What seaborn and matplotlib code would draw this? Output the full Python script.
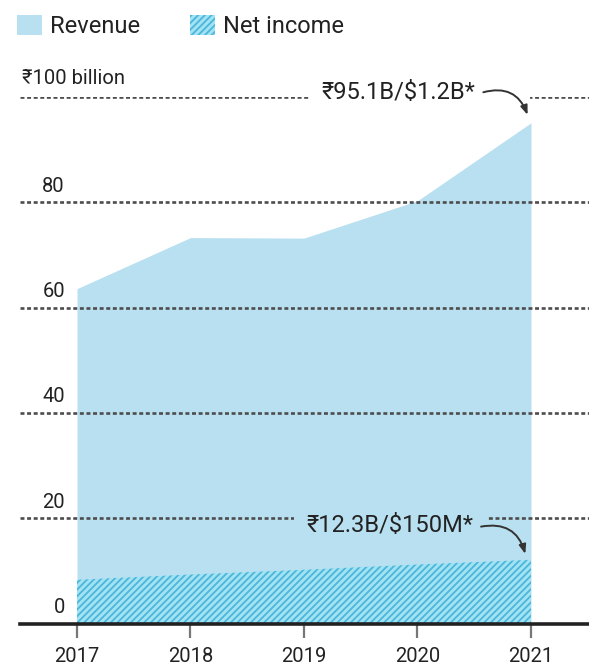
import matplotlib
matplotlib.use("Agg")
import matplotlib.pyplot as plt
from matplotlib.patches import Patch, Rectangle
from matplotlib.transforms import Bbox
import seaborn as sns
import pandas as pd

years = [2017, 2018, 2019, 2020, 2021]
revenue = [63.6, 73.3, 73.2, 80.3, 95.1]
net_income = [8.3, 9.3, 10.2, 11.2, 12.1]
y_ticks = [0, 20, 40, 60, 80, 100]
y_tick_labels = ["0", "20", "40", "60", "80", "₹100 billion"]
rev_label = "₹95.1B/$1.2B*"
ni_label = "₹12.3B/$150M*"

REV_C = "#b9e0f0"
NI_FACE = "#a2e3f3"
NI_HATCH = "#4cb6da"
GRID_C = "#4d4d4d"
TXT = "#222222"

sns.set_theme(style="white")
plt.rcParams["font.family"] = ["Roboto", "DejaVu Sans"]
plt.rcParams["hatch.linewidth"] = 1.3

df = pd.DataFrame({"year": years, "revenue": revenue, "net_income": net_income})

fig = plt.figure(figsize=(5.89, 6.67), dpi=100)
ax = fig.add_axes([20 / 589, 43.5 / 667, 569 / 589, 526.5 / 667])

sns.lineplot(data=df, x="year", y="revenue", ax=ax, lw=0, color=REV_C)
sns.lineplot(data=df, x="year", y="net_income", ax=ax, lw=0, color=NI_FACE)
ax.fill_between(df["year"], 0, df["revenue"], color=REV_C, lw=0, zorder=1)
ax.fill_between(df["year"], 0, df["net_income"], facecolor=NI_FACE,
                edgecolor=NI_HATCH, hatch="/////", lw=0, zorder=1.2)

ax.set_xlim(2016.498, 2021.511)
ax.set_ylim(0, 100)
ax.set_xticks(years)
ax.set_xticklabels([str(y) for y in years])
ax.set_yticks(y_ticks)
ax.set_yticklabels([])
ax.set_xlabel("")
ax.set_ylabel("")
ax.tick_params(axis="x", bottom=True, length=10, width=1.6, color="#777777",
               labelsize=14.5, labelcolor=TXT, pad=7)
ax.tick_params(axis="y", left=False, length=0)

ax.set_axisbelow(False)
ax.yaxis.grid(True, linestyle=(0, (1.5, 1.0)), color=GRID_C, lw=1.9, zorder=2.5)
ax.xaxis.grid(False)
for s in ["top", "right", "left"]:
    ax.spines[s].set_visible(False)
ax.spines["bottom"].set_color("#222222")
ax.spines["bottom"].set_linewidth(2.6)
ax.spines["bottom"].set_zorder(4)

# y labels
blend = ax.get_yaxis_transform()
for v, lab in zip(y_ticks, y_tick_labels):
    if v == y_ticks[-1]:
        ax.text(0.004, v + 2.5, lab, transform=blend, ha="left", va="baseline",
                fontsize=14.5, color=TXT, clip_on=False)
    else:
        ax.text(0.079, v + 2.0, lab, transform=blend, ha="right", va="baseline",
                fontsize=14.5, color=TXT, clip_on=False)

arrow_kw = dict(arrowstyle="-|>,head_length=0.45,head_width=0.17",
                connectionstyle="arc3,rad=-0.45", color="#333333", lw=1.4,
                shrinkA=0, shrinkB=0)

# top annotation
t_rev = ax.text(2019.83, 100.8, rev_label, ha="center", va="center", fontsize=17,
                color=TXT, zorder=5, clip_on=False)
a_rev = ax.annotate("", xy=(2020.97, 96.6), xytext=(2020.58, 100.9),
                    annotation_clip=False, zorder=5, arrowprops=arrow_kw)

# bottom annotation
t_ni = ax.text(2019.76, 18.7, ni_label, ha="center", va="center", fontsize=17,
               color=TXT, zorder=5, clip_on=False,
               bbox=dict(boxstyle="square,pad=0.55", fc=REV_C, ec="none"))
a_ni = ax.annotate("", xy=(2020.95, 13.2), xytext=(2020.56, 18.4),
                   annotation_clip=False, zorder=5, arrowprops=arrow_kw)

# legend
handles = [Patch(facecolor=REV_C, edgecolor="none", label="Revenue"),
           Patch(facecolor=NI_FACE, edgecolor=NI_HATCH, hatch="/////", lw=0,
                 label="Net income")]
fig.legend(handles=handles, loc="upper left", bbox_to_anchor=(17 / 589, 1 - 15 / 667),
           ncol=2, frameon=False, fontsize=17, handlelength=1.05, handleheight=0.95,
           handletextpad=0.35, columnspacing=2.1, borderpad=0, borderaxespad=0,
           labelcolor=TXT)

# white mask behind top annotation (hides gridline under text and arrow)
fig.canvas.draw()
r = fig.canvas.get_renderer()
bb = Bbox.union([t_rev.get_window_extent(r), a_rev.get_window_extent(r)])
inv = fig.transFigure.inverted()
(x0, y0), (x1, y1) = inv.transform([(bb.x0 - 11, bb.y0 - 2), (bb.x1 + 3, bb.y1 + 2)])
mask = Rectangle((x0, y0), x1 - x0, y1 - y0, transform=fig.transFigure,
                 facecolor="white", edgecolor="none", zorder=2.8, clip_on=False)
ax.add_patch(mask)

fig.savefig("out.png", dpi=100)
